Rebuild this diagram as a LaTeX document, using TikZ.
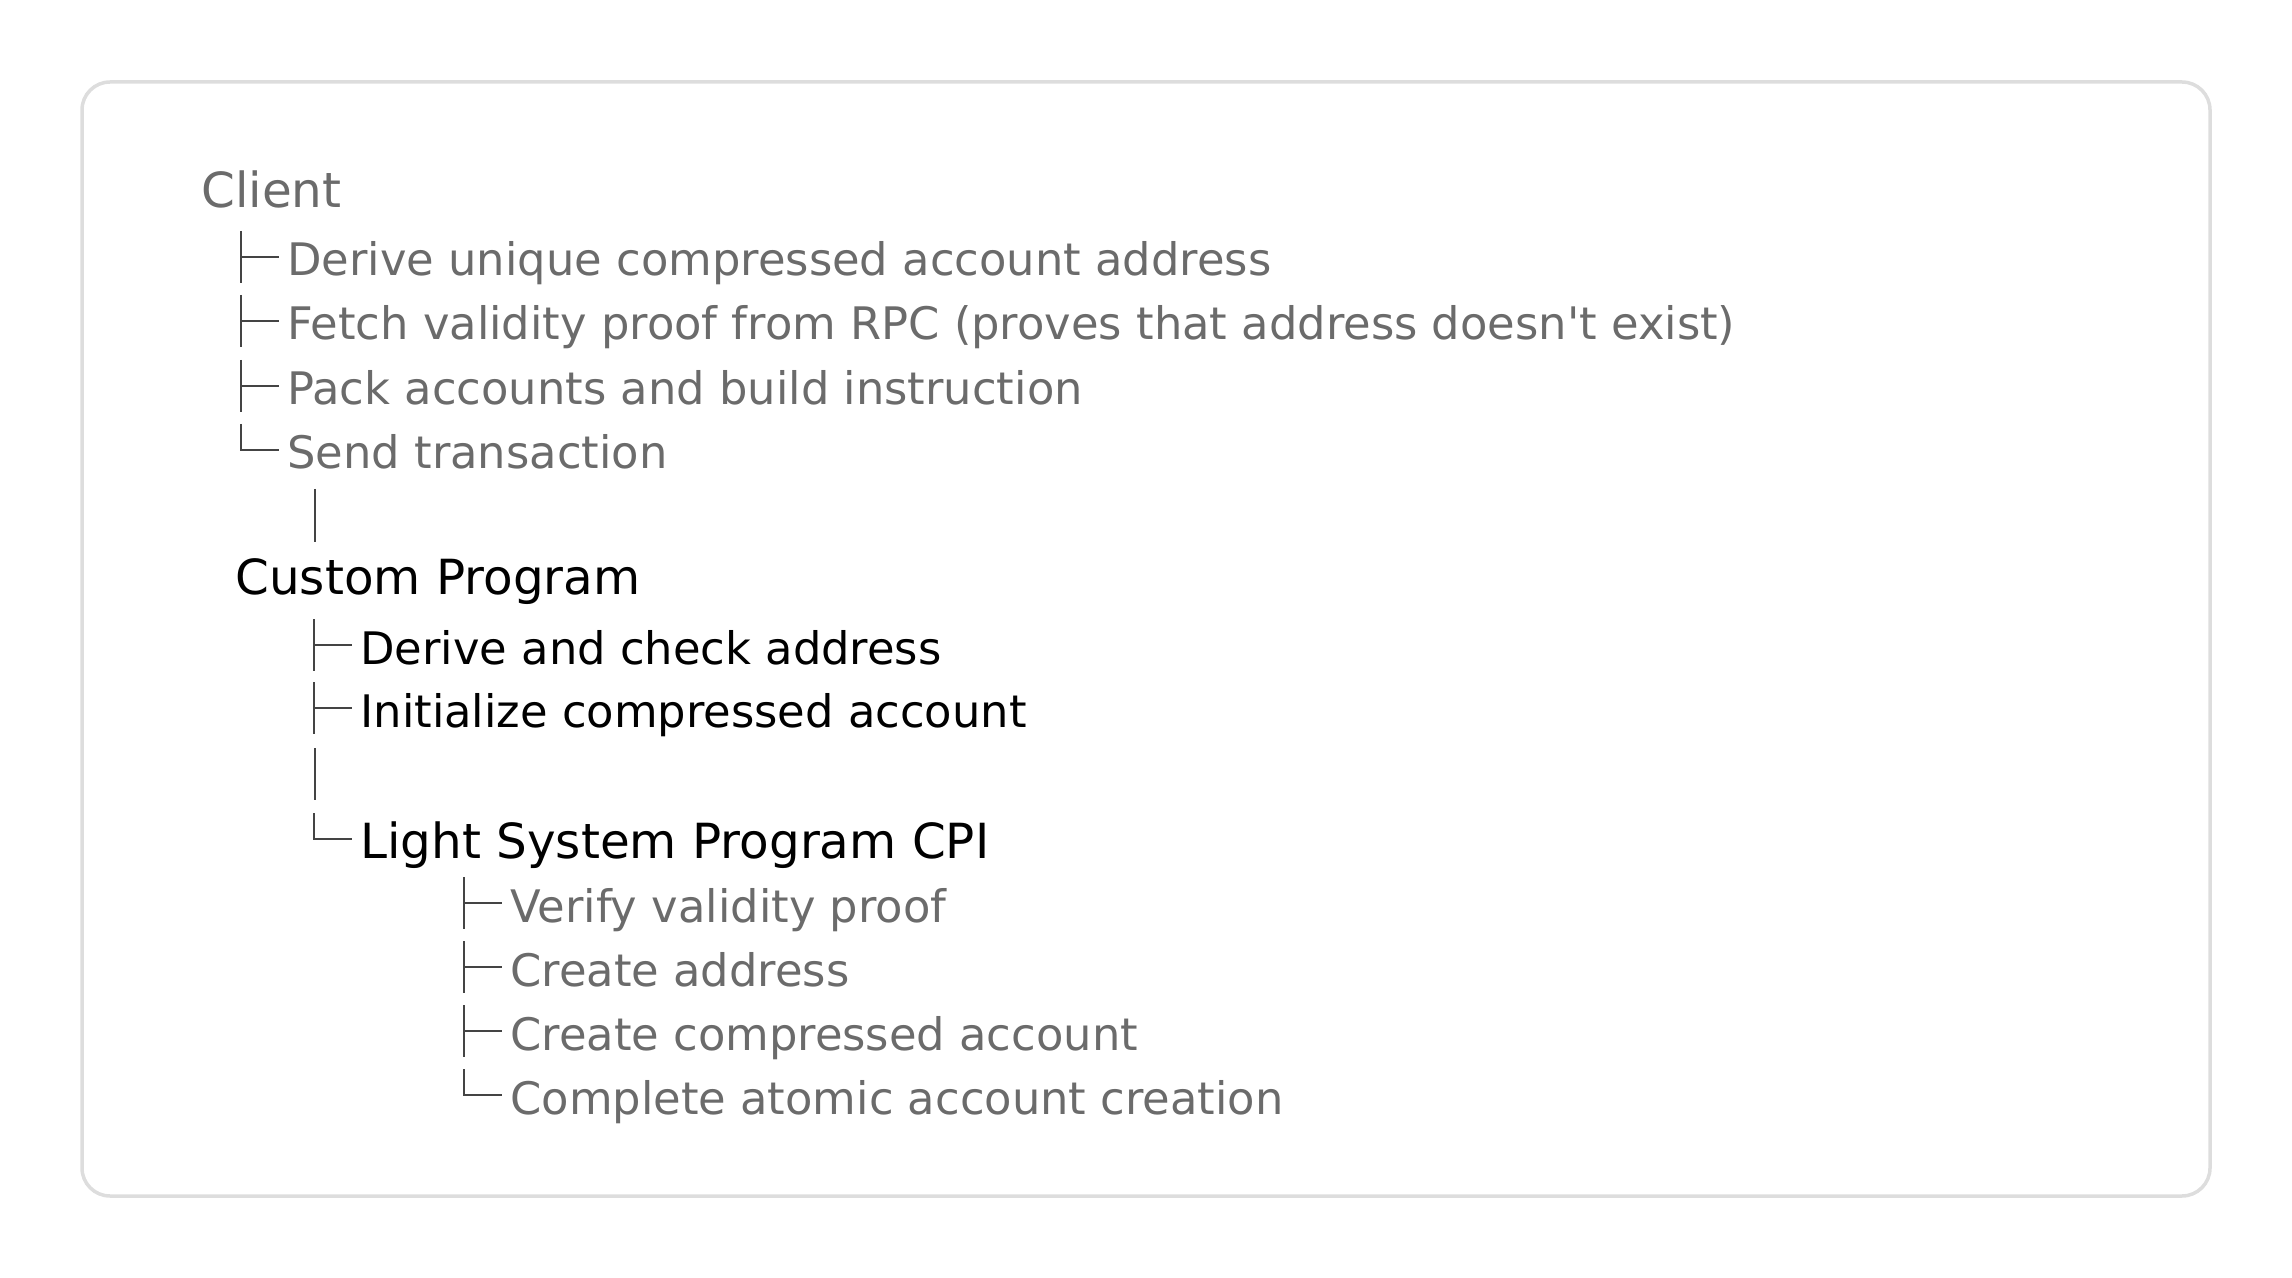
\documentclass[tikz,border=0pt]{standalone}
\usepackage{fontspec}
\newfontfamily\uifont{DejaVu Sans}
\usepackage{tikz}
\usetikzlibrary{positioning}
\definecolor{txtgray}{HTML}{6B6B6B}
\definecolor{treeline}{HTML}{444444}
\definecolor{framegray}{HTML}{DDDDDD}
\newcommand{\tee}[1]{\draw[tree] ([shift={(-46,-45)}]#1.base west) -- ([shift={(-46,7)}]#1.base west)
  ([shift={(-46,-19)}]#1.base west) -- ([shift={(-8,-19)}]#1.base west);}
\newcommand{\elbow}[1]{\draw[tree] ([shift={(-46,-45)}]#1.base west) |- ([shift={(-8,-19)}]#1.base west);}

\begin{document}
\begin{tikzpicture}[x=0.5pt, y=-0.5pt,
  head/.style={anchor=base west, inner sep=0pt, font=\uifont\fontsize{24.2}{29}\selectfont},
  item/.style={anchor=base west, inner sep=0pt, font=\uifont\fontsize{22.4}{27}\selectfont},
  tree/.style={draw=treeline, line width=1pt},
  frame/.style={draw=framegray, line width=1.75pt, rounded corners=14pt}]
\useasboundingbox (0,0) rectangle (2292,1278);
\draw[frame] (82,82) rectangle (2210,1196);
% client side
\node[head, txtgray] (client) at (201,208) {Client};
\node[item, txtgray] (derive) at (287,276) {Derive unique compressed account address};
\node[item, txtgray] (fetch) at (287,340) {Fetch validity proof from RPC (proves that address doesn't exist)};
\node[item, txtgray] (pack) at (287,405) {Pack accounts and build instruction};
\node[item, txtgray] (send) at (287,469) {Send transaction};
\tee{derive} \tee{fetch} \tee{pack} \elbow{send}
% custom program
\node[head] (prog) at (235,594) {Custom Program};
\draw[tree] ([shift={(28,20)}]send.base west) -- ([shift={(80,-52)}]prog.base west);
\node[item] (check) at (360,664) {Derive and check address};
\node[item] (init) at (360,727) {Initialize compressed account};
\node[head] (lsp) at (360,858) {Light System Program CPI};
\tee{check} \tee{init} \elbow{lsp}
\draw[tree] ([shift={(-45,21)}]init.base west) -- ([shift={(-45,-58)}]lsp.base west);
% light system program
\node[item, txtgray] (verify) at (510,922) {Verify validity proof};
\node[item, txtgray] (addr) at (510,986) {Create address};
\node[item, txtgray] (cacc) at (510,1050) {Create compressed account};
\node[item, txtgray] (atomic) at (510,1114) {Complete atomic account creation};
\tee{verify} \tee{addr} \tee{cacc} \elbow{atomic}
\end{tikzpicture}
\end{document}
